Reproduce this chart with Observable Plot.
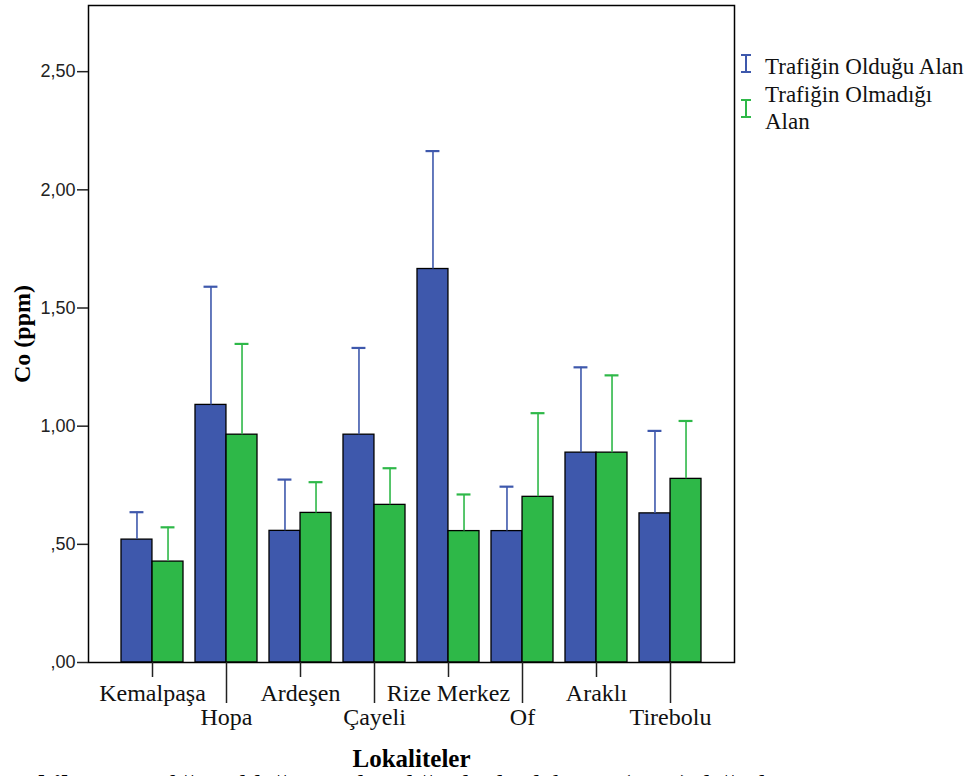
<!DOCTYPE html>
<html>
<head>
<meta charset="utf-8">
<script src="https://cdn.jsdelivr.net/npm/d3@7"></script>
<script src="https://cdn.jsdelivr.net/npm/@observablehq/plot@0.6"></script>
<style>
  html, body { margin: 0; padding: 0; background: #fff; overflow: hidden; }
  #wrap { position: relative; width: 971px; height: 776px; overflow: hidden; }
  #chart svg { display: block; }
  #legend { position: absolute; left: 740px; top: 53px; font-family: "Liberation Serif", serif; font-size: 23px; line-height: 27.5px; color: #111; }
  .item { position: relative; padding-left: 25px; white-space: nowrap; }
  .sym { position: absolute; left: 0; }
  #caption { position: absolute; left: 10px; top: 771px; font-family: "Liberation Serif", serif; font-size: 28px; line-height: 28px; white-space: nowrap; color: #000; }
  #caption b { margin-right: 10px; }
</style>
</head>
<body>
<div id="wrap">
  <div id="chart"></div>
  <div id="legend"></div>
  <div id="caption"><b>Şekil 22.</b> Trafiğin olduğu ve olmadığı alanlardaki Co (ppm) değerleri</div>
</div>
<script>
// ---- data ----
const categories = ["Kemalpaşa", "Hopa", "Ardeşen", "Çayeli", "Rize Merkez", "Of", "Araklı", "Tirebolu"];
const seriesNames = ["Trafiğin Olduğu Alan", "Trafiğin Olmadığı Alan"];
const trafficMean   = [0.52, 1.09, 0.557, 0.964, 1.665, 0.556, 0.888, 0.631];
const trafficUpper  = [0.636, 1.59, 0.774, 1.331, 2.164, 0.744, 1.249, 0.98];
const noTrafficMean  = [0.427, 0.964, 0.633, 0.667, 0.556, 0.701, 0.888, 0.777];
const noTrafficUpper = [0.572, 1.348, 0.763, 0.822, 0.711, 1.055, 1.215, 1.022];
const yTicks = [0, 0.5, 1, 1.5, 2, 2.5];
const seriesColors = ["#3E58AC", "#2EB848"];
const xAxisTitle = "Lokaliteler";
const yAxisTitle = "Co (ppm)";

const trafficRows = categories.map((c, i) => ({cat: c, series: seriesNames[0], mean: trafficMean[i], upper: trafficUpper[i]}));
const noTrafficRows = categories.map((c, i) => ({cat: c, series: seriesNames[1], mean: noTrafficMean[i], upper: noTrafficUpper[i]}));

const fmt = d => d.toFixed(2).replace(".", ",").replace(/^0,/, ",");
const serif = "Liberation Serif";
const upperRow = categories.filter((d, i) => i % 2 === 0);
const lowerRow = categories.filter((d, i) => i % 2 === 1);

const W = 971, H = 776, ML = 88, MR = 237, MT = 5, MB = 114;
const xOptions = {type: "band", domain: categories, paddingInner: 0.162, paddingOuter: 0.44};
// the library's own band scale gives each group's width; each series takes half of it
const bw = Plot.scale({x: {...xOptions, range: [ML, W - MR]}}).bandwidth;
const half = bw / 2, quarter = bw / 4, cap = 7;

const chart = Plot.plot({
  width: W,
  height: H,
  marginLeft: ML,
  marginRight: MR,
  marginTop: MT,
  marginBottom: MB,
  x: {...xOptions, axis: null, label: null},
  y: {domain: [0, 2.78], axis: null},
  color: {domain: seriesNames, range: seriesColors},
  marks: [
    Plot.barY(trafficRows, {x: "cat", y: "mean", fill: "series", stroke: "#000", strokeWidth: 1.3, insetRight: half}),
    Plot.barY(noTrafficRows, {x: "cat", y: "mean", fill: "series", stroke: "#000", strokeWidth: 1.3, insetLeft: half}),
    Plot.ruleX(trafficRows, {x: "cat", y1: "mean", y2: "upper", stroke: "series", strokeWidth: 1.6, dx: -quarter}),
    Plot.ruleX(noTrafficRows, {x: "cat", y1: "mean", y2: "upper", stroke: "series", strokeWidth: 1.6, dx: quarter}),
    Plot.tickY(trafficRows, {x: "cat", y: "upper", stroke: "series", strokeWidth: 2.2, insetLeft: quarter - cap, insetRight: 3 * quarter - cap}),
    Plot.tickY(noTrafficRows, {x: "cat", y: "upper", stroke: "series", strokeWidth: 2.2, insetLeft: 3 * quarter - cap, insetRight: quarter - cap}),
    Plot.frame({stroke: "#000", strokeWidth: 1.5}),
    Plot.axisY({ticks: yTicks, tickFormat: fmt, tickSize: 11, tickPadding: 2, fontSize: 18, fontFamily: "Liberation Sans", fill: "#222", stroke: "#222", strokeWidth: 1.5, label: null}),
    Plot.axisY({ticks: [], tickSize: 0, label: yAxisTitle, labelAnchor: "center", labelArrow: "none", labelOffset: 76, fontSize: 24, fontWeight: "bold", fontFamily: serif, fill: "#000"}),
    Plot.axisX({ticks: upperRow, tickSize: 15, tickPadding: 6, fontSize: 24, fontFamily: serif, fill: "#111", stroke: "#222", strokeWidth: 1.5, label: null}),
    Plot.axisX({ticks: lowerRow, tickSize: 41, tickPadding: 4, fontSize: 24, fontFamily: serif, fill: "#111", stroke: "#222", strokeWidth: 1.5, label: null}),
    Plot.axisX({ticks: [], tickSize: 0, label: xAxisTitle, labelAnchor: "center", labelArrow: "none", labelOffset: 104, fontSize: 25, fontWeight: "bold", fontFamily: serif, fill: "#000"})
  ]
});
document.getElementById("chart").appendChild(chart);

// legend (HTML, outside the SVG frame)
const legend = document.getElementById("legend");
const symbol = (color, top) => `<svg class="sym" width="12" height="19" viewBox="0 0 12 19" style="top:${top}px"><line x1="6" y1="1" x2="6" y2="18" stroke="${color}" stroke-width="2"/><line x1="1" y1="1" x2="11" y2="1" stroke="${color}" stroke-width="2"/><line x1="1" y1="18" x2="11" y2="18" stroke="${color}" stroke-width="2"/></svg>`;
legend.innerHTML =
  `<div class="item">${symbol(seriesColors[0], 1)}${seriesNames[0]}</div>` +
  `<div class="item">${symbol(seriesColors[1], 18)}Trafiğin Olmadığı<br>Alan</div>`;
</script>
</body>
</html>
